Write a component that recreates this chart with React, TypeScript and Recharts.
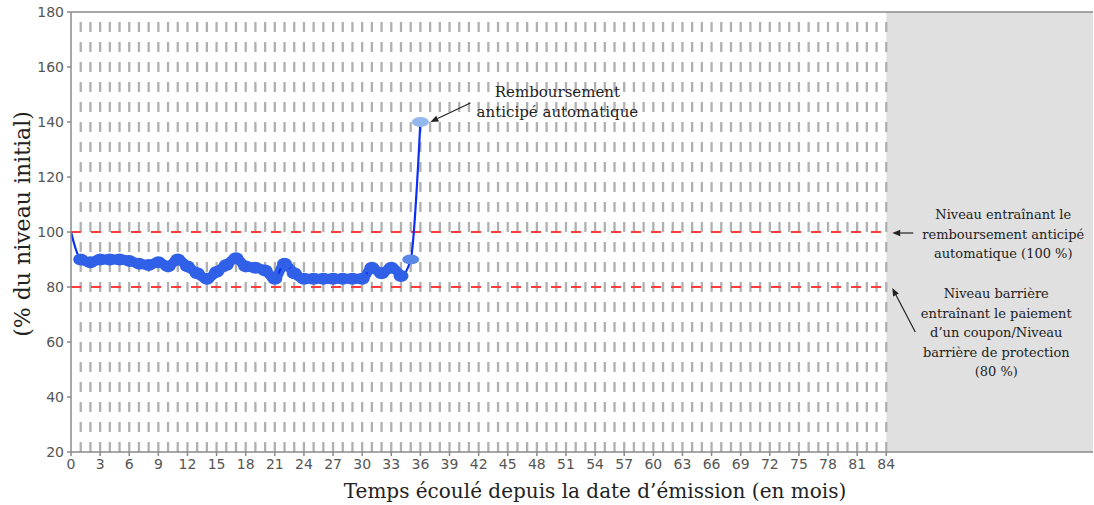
import React from "react";
import {
  ComposedChart,
  Line,
  XAxis,
  YAxis,
  ReferenceLine,
  ReferenceArea,
  ReferenceDot,
} from "recharts";

// values (month -> % of initial level)
const months = [
  0, 1, 2, 3, 4, 5, 6, 7, 8, 9, 10, 11, 12, 13, 14, 15, 16, 17, 18, 19, 20, 21, 22, 23, 24, 25, 26, 27,
  28, 29, 30, 31, 32, 33, 34, 35, 36,
];
const levels = [
  100, 90, 89, 90, 90, 90, 89.5, 88.5, 88, 89, 87.5, 90, 87.5, 85, 83, 85.5, 88, 90.5, 87.5, 87, 86, 83,
  88.5, 85, 83, 83, 83, 83, 83, 83, 83, 87, 85, 87, 84, 90, 140,
];
const xTicks = [0, 3, 6, 9, 12, 15, 18, 21, 24, 27, 30, 33, 36, 39, 42, 45, 48, 51, 54, 57, 60, 63, 66, 69, 72, 75, 78, 81, 84];
const yTicks = [20, 40, 60, 80, 100, 120, 140, 160, 180];
const gridMonths = Array.from({ length: 84 }, (_, i) => i + 1);

const TRIGGER_LEVEL = 100;
const BARRIER_LEVEL = 80;
const LAST_MONTH = 84;
const X_MAX = 105.3;
const CALL_MONTH = 36;

const COLORS = {
  grid: "#b0b0b0",
  red: "#ff3b3b",
  halo: "#3160e8",
  line: "#0b2ff5",
  markMid: "#5b88e6",
  markLight: "#93b8ee",
  shade: "#e0e0e0",
  axis: "#8a8a8a",
  tick: "#555555",
  text: "#222222",
};

const SERIF = "'DejaVu Serif', 'Liberation Serif', serif";
const SANS = "'DejaVu Sans', sans-serif";

const data = months.map((m, i) => ({
  m,
  level: levels[i],
  halo: m >= 1 && m <= 34 ? levels[i] : null,
  mark: m >= 35 ? levels[i] : null,
}));

function Arrow({ x1, y1, x2, y2 }: { x1: number; y1: number; x2: number; y2: number }) {
  const dx = x2 - x1;
  const dy = y2 - y1;
  const len = Math.sqrt(dx * dx + dy * dy);
  const ux = dx / len;
  const uy = dy / len;
  const bx = x2 - ux * 8;
  const by = y2 - uy * 8;
  const pts = `${x2},${y2} ${bx - uy * 3.2},${by + ux * 3.2} ${bx + uy * 3.2},${by - ux * 3.2}`;
  return (
    <g>
      <line x1={x1} y1={y1} x2={bx} y2={by} stroke={COLORS.text} strokeWidth={1.2} />
      <polygon points={pts} fill={COLORS.text} />
    </g>
  );
}

function centerOf(viewBox: any) {
  return { cx: viewBox.x + viewBox.width / 2, cy: viewBox.y + viewBox.height / 2 };
}

function CallNote(props: any) {
  const { cx, cy } = centerOf(props.viewBox);
  return (
    <g fontFamily={SERIF} fontSize={15} fill={COLORS.text}>
      <text x={cx + 137} y={cy - 25} textAnchor="middle">Remboursement</text>
      <text x={cx + 137} y={cy - 5} textAnchor="middle">anticipé automatique</text>
      <Arrow x1={cx + 50} y1={cy - 19} x2={cx + 10} y2={cy} />
    </g>
  );
}

function TriggerNote(props: any) {
  const { cx, cy } = centerOf(props.viewBox);
  const lines = ["Niveau entraînant le", "remboursement anticipé", "automatique (100 %)"];
  return (
    <g fontFamily={SERIF} fontSize={13} fill={COLORS.text}>
      {lines.map((t, i) => (
        <text key={t} x={cx + 117} y={cy - 13 + i * 19.5} textAnchor="middle">{t}</text>
      ))}
      <Arrow x1={cx + 27} y1={cy + 1} x2={cx + 6} y2={cy + 1} />
    </g>
  );
}

function BarrierNote(props: any) {
  const { cx, cy } = centerOf(props.viewBox);
  const lines = ["Niveau barrière", "entraînant le paiement", "d’un coupon/Niveau", "barrière de protection", "(80 %)"];
  return (
    <g fontFamily={SERIF} fontSize={13} fill={COLORS.text}>
      {lines.map((t, i) => (
        <text key={t} x={cx + 110} y={cy + 11 + i * 19.5} textAnchor="middle">{t}</text>
      ))}
      <Arrow x1={cx + 29} y1={cy + 45} x2={cx + 6} y2={cy + 1} />
    </g>
  );
}

function HaloDot(props: any) {
  const { cx, cy, index } = props;
  if (cx == null || cy == null || props.value == null) return <g key={`h${index}`} />;
  return <ellipse key={`h${index}`} cx={cx} cy={cy} rx={7.5} ry={6} fill={COLORS.halo} />;
}

function MarkDot(props: any) {
  const { cx, cy, index, payload } = props;
  if (cx == null || cy == null || payload.mark == null) return <g key={`k${index}`} />;
  const fill = payload.m === CALL_MONTH ? COLORS.markLight : COLORS.markMid;
  return <ellipse key={`k${index}`} cx={cx} cy={cy} rx={8.5} ry={5} fill={fill} />;
}

function YLabel(props: any) {
  const { x, y, height } = props.viewBox;
  const lx = x + 14;
  const ly = y + height / 2 - 8;
  return (
    <text
      x={lx}
      y={ly}
      transform={`rotate(-90, ${lx}, ${ly})`}
      textAnchor="middle"
      dominantBaseline="central"
      fontFamily={SERIF}
      fontSize={22}
      fill={COLORS.text}
    >
      (% du niveau initial)
    </text>
  );
}

function XLabel(props: any) {
  const { x, y, width } = props.viewBox;
  return (
    <text x={x + width / 2 + 13} y={y + 46} textAnchor="middle" fontFamily={SERIF} fontSize={20} fill={COLORS.text}>
      Temps écoulé depuis la date d’émission (en mois)
    </text>
  );
}

export default function App() {
  return (
    <div style={{ position: "absolute", left: 0, top: 0, width: 1094, height: 505 }}>
      <ComposedChart width={1094} height={505} data={data} margin={{ top: 12, right: 1, bottom: 0, left: 8 }}>
        <XAxis
          dataKey="m"
          type="number"
          domain={[0, X_MAX]}
          ticks={xTicks}
          interval={0}
          allowDataOverflow
          height={53}
          stroke={COLORS.axis}
          strokeWidth={1.5}
          tickSize={4}
          tickMargin={3}
          tick={{ fill: COLORS.tick, fontSize: 14, fontFamily: SANS }}
          label={<XLabel />}
        />
        <YAxis
          type="number"
          domain={[20, 180]}
          ticks={yTicks}
          interval={0}
          width={63}
          stroke={COLORS.axis}
          strokeWidth={1.5}
          tickSize={4}
          tickMargin={3}
          tick={{ fill: COLORS.tick, fontSize: 14, fontFamily: SANS }}
          label={<YLabel />}
        />
        <ReferenceArea x1={LAST_MONTH} x2={X_MAX} y1={20} y2={180} fill={COLORS.shade} fillOpacity={1} stroke="none" />
        {gridMonths.map((m) => (
          <ReferenceLine key={m} x={m} stroke={COLORS.grid} strokeWidth={2.3} strokeDasharray="10 10" />
        ))}
        <ReferenceLine y={180} stroke={COLORS.axis} strokeWidth={1.5} />
        <ReferenceLine
          segment={[{ x: 0, y: TRIGGER_LEVEL }, { x: LAST_MONTH, y: TRIGGER_LEVEL }]}
          stroke={COLORS.red}
          strokeWidth={2.2}
          strokeDasharray="10 10"
        />
        <ReferenceLine
          segment={[{ x: 0, y: BARRIER_LEVEL }, { x: LAST_MONTH, y: BARRIER_LEVEL }]}
          stroke={COLORS.red}
          strokeWidth={2.2}
          strokeDasharray="10 10"
        />
        <Line
          dataKey="halo"
          type="monotone"
          stroke={COLORS.halo}
          strokeWidth={10}
          dot={HaloDot}
          activeDot={false}
          isAnimationActive={false}
        />
        <Line dataKey="mark" stroke="none" dot={MarkDot} activeDot={false} isAnimationActive={false} />
        <Line
          dataKey="level"
          type="monotone"
          stroke={COLORS.line}
          strokeWidth={2.2}
          dot={false}
          activeDot={false}
          isAnimationActive={false}
        />
        <ReferenceDot x={CALL_MONTH} y={140} r={1} fill="none" stroke="none" label={<CallNote />} />
        <ReferenceDot x={LAST_MONTH} y={TRIGGER_LEVEL} r={1} fill="none" stroke="none" label={<TriggerNote />} />
        <ReferenceDot x={LAST_MONTH} y={BARRIER_LEVEL} r={1} fill="none" stroke="none" label={<BarrierNote />} />
      </ComposedChart>
    </div>
  );
}
